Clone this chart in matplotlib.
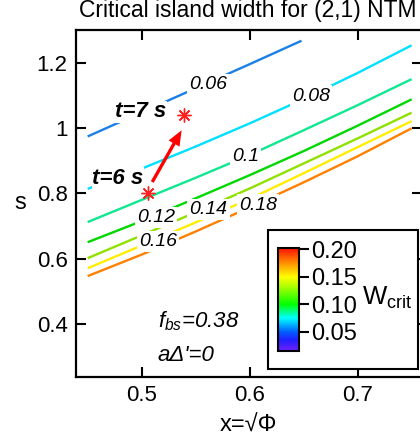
import numpy as np
import matplotlib
matplotlib.use("Agg")
import matplotlib.pyplot as plt
from matplotlib.colors import LinearSegmentedColormap, Normalize
from matplotlib.cm import ScalarMappable
from matplotlib.patches import Rectangle
from matplotlib.ticker import FormatStrFormatter

plt.rcParams['font.family'] = ['Liberation Sans', 'DejaVu Sans']
plt.rcParams['mathtext.fontset'] = 'custom'
plt.rcParams['mathtext.rm'] = 'Liberation Sans'
plt.rcParams['mathtext.it'] = 'Liberation Sans:italic'

# W_crit contour lines, traced in (x, s)
level_labels = ['0.06', '0.08', '0.1', '0.12', '0.14', '0.16', '0.18']
level_colors = ['#1a80e8', '#00e0ff', '#10e890', '#00d800', '#90e000', '#ffee00', '#ff8000']

x_06 = [0.45, 0.50, 0.55, 0.60, 0.648]
s_06 = [0.975, 1.049, 1.123, 1.197, 1.269]
x_grid = [0.45, 0.50, 0.55, 0.60, 0.65, 0.70, 0.75]
s_08 = [0.814, 0.876, 0.944, 1.015, 1.090, 1.170, 1.255]
s_10 = [0.712, 0.780, 0.848, 0.918, 0.994, 1.071, 1.151]
s_12 = [0.650, 0.715, 0.785, 0.856, 0.930, 1.008, 1.089]
s_14 = [0.601, 0.671, 0.742, 0.815, 0.892, 0.969, 1.048]
s_16 = [0.570, 0.640, 0.711, 0.783, 0.862, 0.942, 1.022]
s_18 = [0.546, 0.612, 0.683, 0.757, 0.834, 0.914, 1.000]

# measured points at two times
t_labels = ['t=6 s', 't=7 s']
t_x = [0.5056, 0.539]
t_s = [0.800, 1.041]

# colour scale
cbar_ticks = [0.05, 0.10, 0.15, 0.20]
cbar_min, cbar_max = 0.015, 0.203

fig = plt.figure(figsize=(4.2, 4.43), dpi=100)
W, H = 420, 443
ax = fig.add_axes([76 / W, 66 / H, 346 / W, 347 / H])
ax.set_xlim(0.4392, 0.7596)
ax.set_ylim(0.236, 1.302)

lines_x = [x_06] + [x_grid] * 6
lines_s = [s_06, s_08, s_10, s_12, s_14, s_16, s_18]
for xx, ss, c in zip(lines_x, lines_s, level_colors):
    ax.plot(xx, ss, color=c, lw=1.7, solid_capstyle='butt', zorder=2)

# contour labels with white boxes (they hide the lines underneath)
lab_x = [0.562, 0.657, 0.596, 0.513, 0.562, 0.515, 0.608]
lab_s = [1.135, 1.099, 0.912, 0.725, 0.751, 0.653, 0.764]
for lx, ls, lab in zip(lab_x, lab_s, level_labels):
    ax.text(lx, ls, lab, style='italic', fontsize=14, ha='center', va='center',
            bbox=dict(facecolor='white', edgecolor='none', pad=1.5), zorder=3)

# time labels
ax.text(0.478, 0.846, t_labels[0], style='italic', weight='bold', fontsize=16,
        ha='center', va='center', bbox=dict(facecolor='white', edgecolor='none', pad=0.5), zorder=3)
ax.text(0.499, 1.051, t_labels[1], style='italic', weight='bold', fontsize=16,
        ha='center', va='center', bbox=dict(facecolor='white', edgecolor='none', pad=0.5), zorder=3)

ax.plot(t_x, t_s, ls='none', marker=(8, 2, 0), ms=10, mew=1.0, color='#ff2020', zorder=5)
ax.annotate('', xy=(0.537, 0.994), xytext=(0.5098, 0.835),
            arrowprops=dict(facecolor='#ff0000', edgecolor='none', width=2.4,
                            headwidth=9, headlength=11, shrink=0), zorder=5)

ax.text(0.515, 0.387, r'$f_{bs}$=0.38', style='italic', fontsize=16)
ax.text(0.515, 0.284, "aΔ'=0", style='italic', fontsize=16)

ax.set_xticks([0.5, 0.6, 0.7])
ax.set_xticklabels(['0.5', '0.6', '0.7'])
ax.set_yticks([0.4, 0.6, 0.8, 1.0, 1.2])
ax.set_yticklabels(['0.4', '0.6', '0.8', '1', '1.2'])
ax.tick_params(direction='in', length=7, width=1.5, labelsize=16, pad=6,
               top=True, right=True)
for sp in ax.spines.values():
    sp.set_linewidth(1.6)

fig.text(79 / W, 1 - 16.7 / H, 'Critical island width for (2,1) NTM', fontsize=16.5, va='baseline')
fig.text(248 / W, 1 - 426 / H, 'x=√Φ', fontsize=17, ha='center', va='center')
fig.text(20.7 / W, 1 - 203 / H, 's', fontsize=17, ha='center', va='center')

# colour scale box
ax.add_patch(Rectangle((267.5 / W, 74 / H), 150.5 / W, 139.5 / H, transform=fig.transFigure,
                       facecolor='white', edgecolor='black', lw=1.5, clip_on=False, zorder=10))
cmap = LinearSegmentedColormap.from_list('rainbow_igor', [
    (0.0, '#7020ff'), ((0.035 - cbar_min) / (cbar_max - cbar_min), '#2020ff'),
    ((0.05 - cbar_min) / (cbar_max - cbar_min), '#0060ff'),
    ((0.075 - cbar_min) / (cbar_max - cbar_min), '#00ffff'),
    ((0.10 - cbar_min) / (cbar_max - cbar_min), '#00ff00'),
    ((0.13 - cbar_min) / (cbar_max - cbar_min), '#a0ff00'),
    ((0.15 - cbar_min) / (cbar_max - cbar_min), '#ffff00'),
    ((0.175 - cbar_min) / (cbar_max - cbar_min), '#ff9000'),
    (1.0, '#ff1000')])
sm = ScalarMappable(norm=Normalize(cbar_min, cbar_max), cmap=cmap)
cax = fig.add_axes([277.7 / W, (H - 351) / H, 21 / W, 103.3 / H])
cax.set_zorder(11)
cb = fig.colorbar(sm, cax=cax, ticks=cbar_ticks)
cb.ax.yaxis.set_major_formatter(FormatStrFormatter('%.2f'))
cb.outline.set_linewidth(1.5)
cax.tick_params(length=7, width=1.5, labelsize=17, pad=2)
fig.text(362 / W, 1 - 298 / H, r'W$_{\mathregular{crit}}$', fontsize=18.5, va='center', zorder=12)

fig.savefig('out.png', dpi=100)
